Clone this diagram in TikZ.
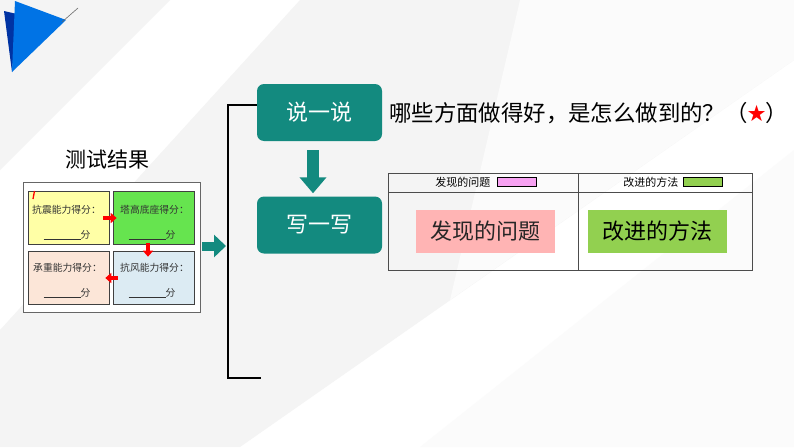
\documentclass[tikz,border=0pt]{standalone}
\usepackage{fontspec}
\setmainfont{Noto Sans CJK SC}
\newfontfamily\cjk{Noto Sans CJK SC}
\newfontfamily\symf{DejaVu Sans}
\usetikzlibrary{arrows.meta,calc}
\definecolor{tealc}{HTML}{138A7F}
\definecolor{bgray}{HTML}{F4F4F4}
\definecolor{yel}{HTML}{FFFFA6}
\definecolor{grn}{HTML}{66E44F}
\definecolor{peach}{HTML}{FCE6D8}
\definecolor{lblue}{HTML}{DCEBF3}
\definecolor{pinkbox}{HTML}{FFB4B4}
\definecolor{violet}{HTML}{F7A2F2}
\definecolor{lgreen}{HTML}{92D050}
\tikzset{
  tealbox/.style={rounded corners=7pt, fill=tealc, text=white, minimum width=125pt, minimum height=57pt, font=\fontsize{22}{26}\selectfont, inner sep=0pt},
  scorebox/.style={draw=black!75, line width=0.6pt, minimum width=81pt, minimum height=53pt, inner sep=0pt},
  small/.style={font=\fontsize{9.8}{11}\selectfont, text=black!80},
  redarrow/.style={draw=red, line width=4.5pt, -{Triangle[width=10pt,length=6pt]}},
  fatarrow/.style={draw=tealc, line width=12pt, -{Triangle[width=26pt,length=16pt]}},
  bracket/.style={draw=black, line width=1.2pt},
  tabline/.style={draw=black!70, line width=0.7pt},
}
\begin{document}
\begin{tikzpicture}[x=1pt,y=-1pt]
\useasboundingbox (0,0) rectangle (794,447);
% background
\fill[white] (0,0) rectangle (794,447);
\fill[bgray] (0,0) -- (170,0) -- (0,170) -- cycle;
\fill[bgray] (300,0) -- (794,0) -- (794,60) -- (240,447) -- (0,447) -- (0,330) -- cycle;
\fill[white!60!bgray] (520,0) -- (794,0) -- (794,447) -- (420,447) -- (794,150) -- (794,60) -- (450,300) -- cycle;
% corner triangles
\fill[blue!55!black!80!cyan] (4,11) -- (17,14) -- (12,72) -- cycle;
\fill[blue!50!cyan!90!black] (15,1) -- (66,20) -- (12,72) -- cycle;
\draw[black!60, line width=0.6pt] (62,22) -- (78,8);

% test results
\node[font=\fontsize{21}{24}\selectfont] (title) at (107,160) {测试结果};
\node[draw=black!60, line width=0.8pt, fill=white, minimum width=177pt, minimum height=130pt, inner sep=0pt] (outer) at (111.5,247) {};
\node[scorebox, fill=yel] (b1) at (68.5,218) {};
\node[scorebox, fill=grn] (b2) at (153.5,218) {};
\node[scorebox, fill=peach] (b3) at (68.5,277.5) {};
\node[scorebox, fill=lblue] (b4) at (153.5,277.5) {};
\node[small] (t1) at (66.5,210) {抗震能力得分：};
\node[small] (u1) at (67,235) {\underline{\hspace{37pt}}分};
\node[small] (t2) at (154.5,210) {塔高底座得分：};
\node[small] (u2) at (152,235) {\underline{\hspace{37pt}}分};
\node[small] (t3) at (67.5,268) {承重能力得分：};
\node[small] (u3) at (67,293) {\underline{\hspace{37pt}}分};
\node[small] (t4) at (154.5,268) {抗风能力得分：};
\node[small] (u4) at (152,293) {\underline{\hspace{37pt}}分};
\draw[red, line width=1.3pt] (33,199) -- (34.5,191);
\draw[redarrow] ([xshift=-6pt]b1.east |- 0,218) -- ([xshift=4pt]b2.west |- 0,218);
\draw[redarrow] ([yshift=2pt]b2.south -| 148,0) -- ([yshift=-6pt]b4.north -| 148,0);
\draw[redarrow] ([xshift=5pt]b4.west |- 0,278) -- ([xshift=-4pt]b3.east |- 0,278);

% bracket
\coordinate (brtop) at (258,105);
\coordinate (brbot) at (261,378);
\draw[bracket] (brtop) -- (228,105) -- (228,378) -- (brbot);
\coordinate (brmid) at (228,246);
\draw[draw=tealc, line width=9pt, -{Triangle[width=22pt,length=12pt]}] ([xshift=2pt]outer.east |- brmid) -- ([xshift=-2pt]brmid);

% teal boxes
\node[tealbox] (say) at (319.5,112.5) {说一说};
\node[tealbox] (write) at (319.5,225) {写一写};
\draw[fatarrow] ([yshift=-9pt]say.south -| 313,0) -- ([yshift=3pt]write.north -| 313,0);

\node[anchor=west, font=\fontsize{22.4}{26}\selectfont, inner sep=0pt] (q) at (389,113) {哪些方面做得好，是怎么做到的？（\makebox[18pt]{\symf\color{red}★}）};

% table
\coordinate (tl) at (388,173);
\coordinate (br) at (752,270);
\draw[tabline] (tl) rectangle (br);
\draw[tabline] (388,192) -- (752,192);
\draw[tabline] (578,173) -- (578,270);
\node[font=\fontsize{11}{13}\selectfont, anchor=east] (h1) at (494,182.5) {发现的问题};
\node[draw=black, line width=0.8pt, fill=violet, minimum width=39pt, minimum height=9pt, inner sep=0pt] (sw1) at (516.5,182) {};
\node[font=\fontsize{11}{13}\selectfont, anchor=east] (h2) at (682,182.5) {改进的方法};
\node[draw=black, line width=0.8pt, fill=lgreen, minimum width=39pt, minimum height=9pt, inner sep=0pt] (sw2) at (702.5,182) {};
\node[fill=pinkbox, minimum width=139pt, minimum height=43pt, inner sep=0pt, font=\fontsize{22}{26}\selectfont, text=black!85] (p1) at (485.5,231.5) {发现的问题};
\node[fill=lgreen, minimum width=139pt, minimum height=43pt, inner sep=0pt, font=\fontsize{22}{26}\selectfont, text=black] (p2) at (657.5,231.5) {改进的方法};
\end{tikzpicture}
\end{document}
